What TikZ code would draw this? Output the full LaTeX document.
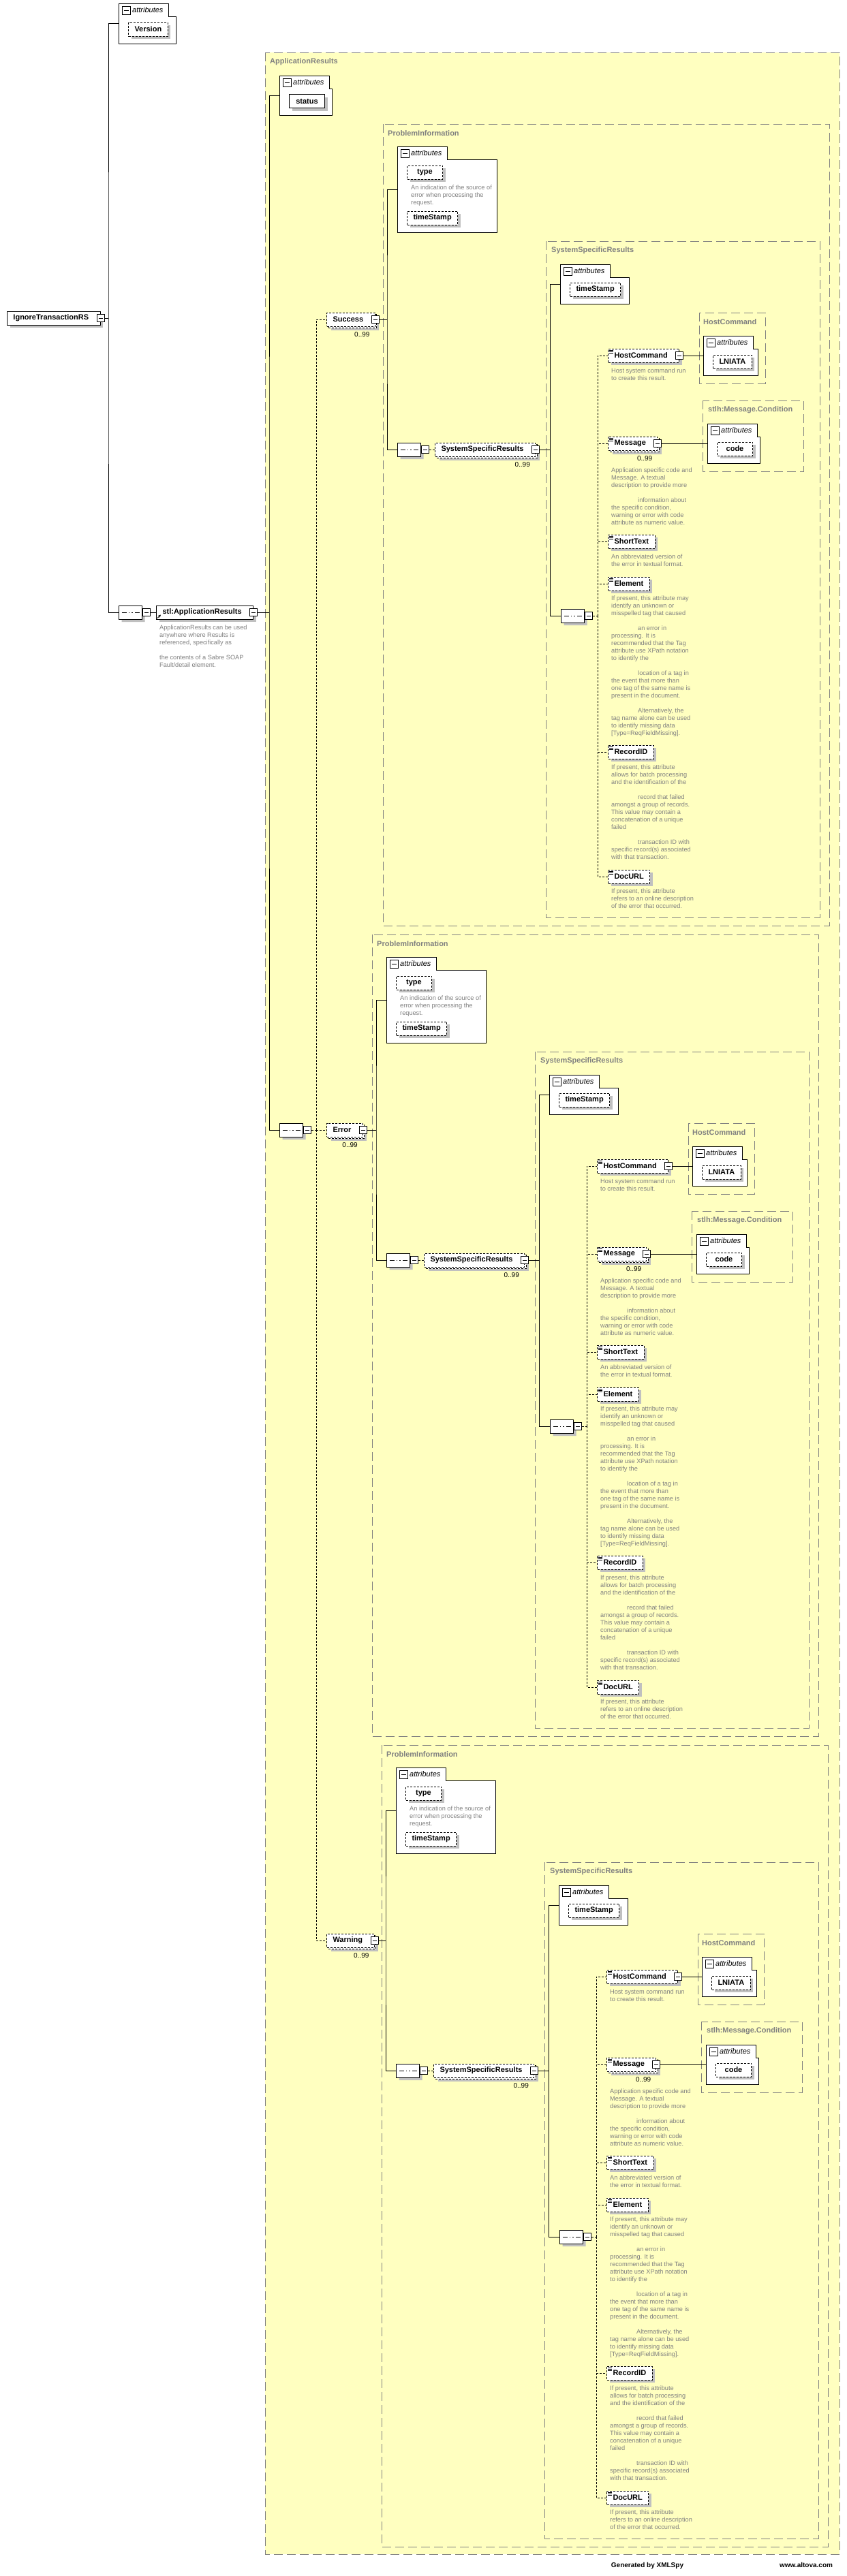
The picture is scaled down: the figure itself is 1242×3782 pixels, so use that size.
\documentclass[tikz,border=0pt]{standalone}
\usepackage{fontspec}
\setmainfont{Liberation Sans}
\usetikzlibrary{shadows,shapes.misc}

\definecolor{xsyellow}{RGB}{255,255,192}
\definecolor{xsgray}{RGB}{128,128,128}
\definecolor{xsshade}{RGB}{192,192,192}

\newcommand\namefont{\fontsize{11}{13}\selectfont\bfseries}

\tikzset{
  opt/.style={dash pattern=on 3pt off 2pt},
  elembase/.style={draw, line width=1pt, fill=white, inner xsep=9pt, inner ysep=0pt,
    minimum height=20pt, anchor=west, font=\namefont},
  elem/.style={elembase, general shadow={fill=xsshade, shadow xshift=4pt, shadow yshift=-4pt}},
  kids/.style={execute at end node={\hspace*{8pt}}},
  melem/.style={elembase, kids,
    general shadow={fill=xsshade, shadow xshift=6pt, shadow yshift=-6pt},
    general shadow={fill=white, draw=black, line width=1pt, opt, shadow xshift=2.5pt, shadow yshift=-2.5pt},
    opt},
  attr/.style={elem, minimum width=52pt},
  minus/.style={draw, line width=1pt, fill=white, minimum size=11pt, inner sep=0pt,
    path picture={\draw[line width=1pt] ([xshift=2.5pt]path picture bounding box.west)
      -- ([xshift=-2.5pt]path picture bounding box.east);}},
  seq/.style={chamfered rectangle, chamfered rectangle xsep=4pt, draw, line width=1pt,
    fill=white, minimum width=34pt, minimum height=20pt, inner sep=0pt, anchor=west,
    general shadow={fill=xsshade, shadow xshift=4pt, shadow yshift=-4pt},
    path picture={
      \draw[line width=1pt] ([xshift=4pt]path picture bounding box.west)
        -- ([xshift=-4pt]path picture bounding box.east);
      \foreach \k in {-4.5,0,4.5}
        \fill ([xshift=\k pt]path picture bounding box.center) +(-1.5,-1.5) rectangle +(1.5,1.5);}},
  cont/.style={draw=xsgray, fill=xsyellow, line width=1pt, dash pattern=on 13pt off 6pt},
  ctitle/.style={anchor=west, inner sep=0pt, text=xsgray, font=\namefont},
  note/.style={anchor=north west, yshift=7pt, inner sep=0pt, align=left, text=xsgray,
    font=\fontsize{9.2}{11}\selectfont, execute at begin node={\rule{0pt}{7pt}}},
  occurs/.style={anchor=north east, inner sep=0pt, font=\fontsize{10}{12}\selectfont},
  wire/.style={line width=1pt},
  optwire/.style={line width=1pt, opt},
  attrframe/.style={draw, line width=1pt, fill=white},
  attrtitle/.style={anchor=west, inner sep=0pt, font=\fontsize{11}{13}\selectfont\itshape},
  footer/.style={anchor=base, inner sep=0pt, font=\fontsize{10}{12}\selectfont\bfseries}
}

\newcommand\attrbox[5]{%
  \draw[attrframe] (#2,#3) -- ({#2+73},#3) -- ({#2+73},{#3+19}) -- (#4,{#3+19})
    -- (#4,#5) -- (#2,#5) -- cycle;
  \node[minus, minimum size=12pt] (#1-m) at ({#2+11},{#3+10.5}) {};
  \node[attrtitle] (#1-t) at ({#2+20},{#3+10}) {attributes};
  \coordinate (#1) at (#2,{(#3+#5)/2});
}
\newcommand\txtmark[1]{%
  \foreach \j in {2.5,4.5,6.5}
    \draw[line width=0.6pt] ([shift={(2,\j)}]#1.north west) -- ++(6,0);
}

\begin{document}
\begin{tikzpicture}[x=1pt,y=-1pt]
  \useasboundingbox (0,0) rectangle (1242,3782);
  \fill[white] (0,0) rectangle (1242,3782);

  \attrbox{rootattr}{174}{5}{258}{64}
  \node[attr,opt] (version) at (188,43) {Version};
  \node[elem,kids] (root) at (10,467) {IgnoreTransactionRS};
  \node[minus] (root-m) at (root.east) {};
  \coordinate (rootbus) at (159,467);
  \node[seq] (rootseq) at (174,899) {};
  \node[minus,anchor=west] (rootseq-m) at (rootseq.east) {};
  \draw[wire] (root-m) -- (rootbus);
  \draw[wire] (rootattr) -| (rootbus) |- (rootseq);

  \draw[cont] (389,77) rectangle (1232,3750);
  \node[elem,kids] (appres) at (229,899) {stl:ApplicationResults};
  \node[minus] (appres-m) at (appres.east) {};
  \draw[->,>=stealth,line width=0.8pt] ([shift={(2,-2)}]appres.south west) -- ++(5,-5);
  \draw[wire] (rootseq-m) -- (appres);
  \node[note] (appres-note) at (234,925) {ApplicationResults can be used\\anywhere where Results is\\referenced, specifically as\\[11pt]the contents of a Sabre SOAP\\Fault/detail element.};

  \node[ctitle] (ar-title) at (396,91) {ApplicationResults};
  \attrbox{arattr}{410}{111}{487}{169}
  \node[attr] (status) at (424,148.5) {status};
  \coordinate (arbus) at (395,899);
  \node[seq] (arseq) at (410,1659) {};
  \node[minus,anchor=west] (arseq-m) at (arseq.east) {};
  \draw[wire] (appres-m) -- (arbus);
  \draw[wire] (arattr) -| (arbus) |- (arseq);
  \coordinate (choice) at (464,1659);
  \draw[optwire] (arseq-m) -- (choice);

  \foreach \nm/\tg/\dx/\dy in {Success/s/0/0,Error/e/-16/1190,Warning/w/-2/2380}{
    \node[melem] (\tg) at (479,{469+\dy}) {\nm};
    \node[minus] (\tg-m) at (\tg.east) {};
    \node[occurs] at ([shift={(-8,8)}]\tg.south east) {0..99};
    \draw[optwire] (choice) |- (\tg);
    \begin{scope}[shift={(\dx,\dy)}]
      \draw[cont] (562,182) rectangle (1217,1359);
      \node[ctitle] at (569,196) {ProblemInformation};
      \attrbox{\tg-piattr}{583}{215}{729}{341}
      \node[attr,opt] (\tg-type) at (597,253) {type};
      \node[note] at (603,279) {An indication of the source of\\error when processing the\\request.};
      \node[attr,opt] (\tg-pits) at (597,320) {timeStamp};
      \coordinate (\tg-bus) at (568,469);
      \node[seq] (\tg-seq) at (583,660) {};
      \node[minus,anchor=west] (\tg-seq-m) at (\tg-seq.east) {};
      \draw[wire] (\tg-m) -- (\tg-bus);
      \draw[wire] (\tg-piattr) -| (\tg-bus) |- (\tg-seq);
      \node[melem] (\tg-ssr) at (638,660) {SystemSpecificResults};
      \node[minus] (\tg-ssr-m) at (\tg-ssr.east) {};
      \node[occurs] at ([shift={(-8,8)}]\tg-ssr.south east) {0..99};
      \draw[optwire] (\tg-seq-m) -- (\tg-ssr);

      \draw[cont] (801,354) rectangle (1203,1347);
      \node[ctitle] at (809,368) {SystemSpecificResults};
      \attrbox{\tg-ssrattr}{822}{388}{923}{446}
      \node[attr,opt] (\tg-ssrts) at (836,425) {timeStamp};
      \coordinate (\tg-ssrbus) at (807,660);
      \node[seq] (\tg-inner) at (823,904) {};
      \node[minus,anchor=west] (\tg-inner-m) at (\tg-inner.east) {};
      \draw[wire] (\tg-ssr-m) -- (\tg-ssrbus);
      \draw[wire] (\tg-ssrattr) -| (\tg-ssrbus) |- (\tg-inner);
      \coordinate (\tg-kids) at (877,904);
      \draw[optwire] (\tg-inner-m) -- (\tg-kids);

      \draw[cont] (1026,459) rectangle (1123,563);
      \node[ctitle] at (1032,473) {HostCommand};
      \attrbox{\tg-hcattr}{1032}{493}{1112}{551}
      \node[attr,opt] (\tg-lniata) at (1046,531) {LNIATA};
      \draw[cont] (1031,588) rectangle (1179,692);
      \node[ctitle] at (1039,602) {stlh:Message.Condition};
      \attrbox{\tg-mcattr}{1038}{622}{1115}{680}
      \node[attr,opt] (\tg-code) at (1052,659) {code};

      \node[elem,opt,kids] (\tg-host) at (892,522) {HostCommand};
      \node[minus] (\tg-host-m) at (\tg-host.east) {};
      \node[melem] (\tg-msg) at (892,651) {Message};
      \node[minus] (\tg-msg-m) at (\tg-msg.east) {};
      \node[occurs] at ([shift={(-8,8)}]\tg-msg.south east) {0..99};
      \foreach \kid/\kn/\ky in {ShortText/short/795,Element/elt/857,RecordID/rec/1104,DocURL/doc/1287}
        \node[elem,opt] (\tg-\kn) at (892,\ky) {\kid};
      \foreach \kn in {host,msg,short,elt,rec,doc}{
        \draw[optwire] (\tg-kids) |- (\tg-\kn);
        \txtmark{\tg-\kn}
      }
      \draw[wire] (\tg-host-m) -- (\tg-hcattr);
      \draw[wire] (\tg-msg-m) -- (\tg-mcattr);

      \node[note] at (897,548) {Host system command run\\to create this result.};
      \node[note] at (897,694) {Application specific code and\\Message.  A textual\\description to provide more\\[11pt]\hspace*{39pt}information about\\the specific condition,\\warning or error  with code\\attribute as numeric value.};
      \node[note] at (897,821) {An abbreviated version of\\the error in textual format.};
      \node[note] at (897,882) {If present, this attribute may\\identify an unknown or\\misspelled tag that caused\\[11pt]\hspace*{39pt}an error in\\processing. It is\\recommended that the Tag\\attribute use XPath notation\\to identify the\\[11pt]\hspace*{39pt}location of a tag in\\the event that more than\\one tag of the same name is\\present in the document.\\[11pt]\hspace*{39pt}Alternatively, the\\tag name alone can be used\\to identify missing data\\{[}Type=ReqFieldMissing{]}.};
      \node[note] at (897,1130) {If present, this attribute\\allows for batch processing\\and the identification of the\\[11pt]\hspace*{39pt}record that failed\\amongst a group of records.\\This value may contain a\\concatenation of a unique\\failed\\[11pt]\hspace*{39pt}transaction ID with\\specific record(s) associated\\with that transaction.};
      \node[note] at (897,1312) {If present, this attribute\\refers to an online description\\of the error that occurred.};
    \end{scope}
  }

  \node[footer] (gen) at (950,3769) {Generated by XMLSpy};
  \node[footer] (altova) at (1183,3769) {www.altova.com};
\end{tikzpicture}
\end{document}
